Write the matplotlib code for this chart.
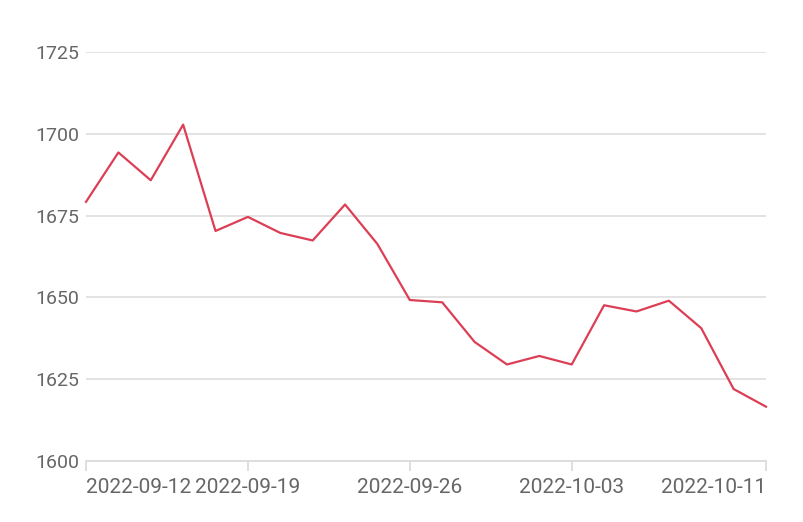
import matplotlib
matplotlib.use("Agg")
import matplotlib.pyplot as plt

dates = ["2022-09-12", "2022-09-13", "2022-09-14", "2022-09-15", "2022-09-16",
         "2022-09-19", "2022-09-20", "2022-09-21", "2022-09-22", "2022-09-23",
         "2022-09-26", "2022-09-27", "2022-09-28", "2022-09-29", "2022-09-30",
         "2022-10-03", "2022-10-04", "2022-10-05", "2022-10-06", "2022-10-07",
         "2022-10-10", "2022-10-11"]
values = [1679.2, 1694.3, 1685.8, 1702.8, 1670.3,
          1674.6, 1669.7, 1667.4, 1678.4, 1666.3,
          1649.2, 1648.5, 1636.4, 1629.5, 1632.1,
          1629.5, 1647.6, 1645.7, 1649.0, 1640.6,
          1622.0, 1616.6]
tick_dates = ["2022-09-12", "2022-09-19", "2022-09-26", "2022-10-03", "2022-10-11"]
y_ticks = [1600, 1625, 1650, 1675, 1700, 1725]

plt.rcParams['font.family'] = ['Roboto', 'DejaVu Sans']

fig = plt.figure(figsize=(8.04, 5.22), dpi=100)
ax = fig.add_axes([86/804, 61/522, 680/804, 409/522])

x = list(range(len(dates)))
ax.plot(x, values, color='#dc3f55', linewidth=1.6, zorder=3, clip_on=False)

ax.set_xlim(0, len(dates) - 1)
ax.set_ylim(y_ticks[0], y_ticks[-1])
ax.set_yticks(y_ticks)
ax.set_yticklabels([str(v) for v in y_ticks])
ax.grid(axis='y', color='#e0e0e0', linewidth=1.3)
ax.set_axisbelow(True)

for s in ['top', 'right', 'left']:
    ax.spines[s].set_visible(False)
ax.spines['bottom'].set_color('#dcdcdc')
ax.spines['bottom'].set_linewidth(1.3)

tick_pos = [dates.index(d) for d in tick_dates]
ax.set_xticks(tick_pos)
ax.set_xticklabels(tick_dates)
labels = ax.get_xticklabels()
labels[0].set_horizontalalignment('left')
labels[-1].set_horizontalalignment('right')

ax.tick_params(axis='y', length=0, pad=5, labelsize=14, labelcolor='#666666')
ax.tick_params(axis='x', length=7, width=1.3, color='#dcdcdc', pad=5,
               labelsize=15, labelcolor='#666666')

fig.savefig("out.png", dpi=100, facecolor='white')
